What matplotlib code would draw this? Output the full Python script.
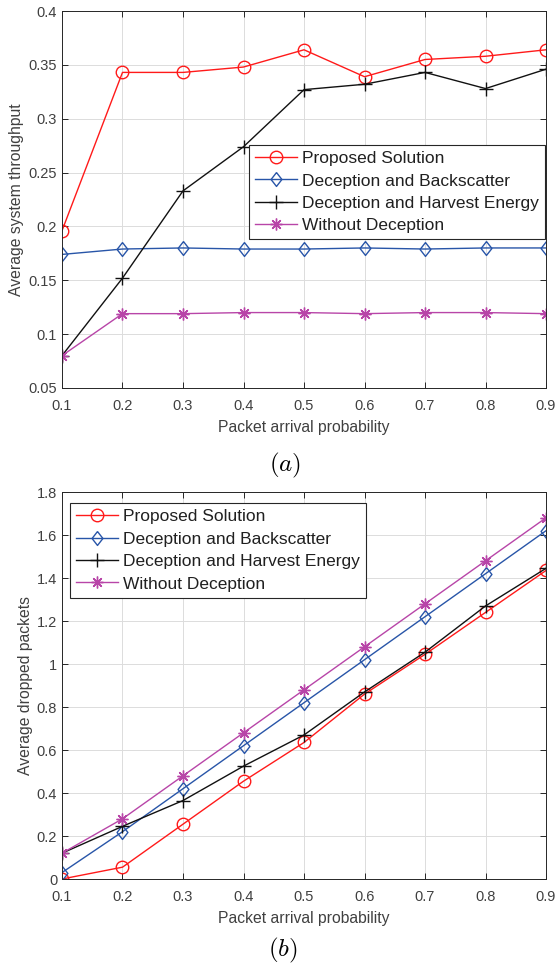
import matplotlib
matplotlib.use("Agg")
import matplotlib.pyplot as plt

plt.rcParams['font.family'] = ['Liberation Sans', 'DejaVu Sans']
plt.rcParams['mathtext.fontset'] = 'cm'

# data
p = [0.1, 0.2, 0.3, 0.4, 0.5, 0.6, 0.7, 0.8, 0.9]
labels = ["Proposed Solution", "Deception and Backscatter",
          "Deception and Harvest Energy", "Without Deception"]

thr_proposed = [0.196, 0.343, 0.343, 0.348, 0.364, 0.339, 0.355, 0.358, 0.364]
thr_backscatter = [0.174, 0.179, 0.180, 0.179, 0.179, 0.180, 0.179, 0.180, 0.180]
thr_harvest = [0.080, 0.152, 0.233, 0.274, 0.327, 0.332, 0.343, 0.328, 0.346]
thr_without = [0.080, 0.119, 0.119, 0.120, 0.120, 0.119, 0.120, 0.120, 0.119]

drop_proposed = [0.0, 0.055, 0.255, 0.455, 0.635, 0.86, 1.045, 1.24, 1.435]
drop_backscatter = [0.03, 0.22, 0.42, 0.62, 0.82, 1.02, 1.22, 1.42, 1.62]
drop_harvest = [0.12, 0.245, 0.365, 0.525, 0.67, 0.87, 1.055, 1.27, 1.445]
drop_without = [0.12, 0.28, 0.48, 0.68, 0.88, 1.08, 1.28, 1.48, 1.68]

# matlab-ish markers
diamond = [(0, 1), (0.78, 0), (0, -1), (-0.78, 0), (0, 1)]
colors = ['#ff1a1a', '#2855a8', '#111111', '#b845a8']
markers = ['o', diamond, '+', (8, 2, 0)]
msizes = [9, 10, 10, 8.5]

fig = plt.figure(figsize=(5.57, 9.67), dpi=100)
ax1 = fig.add_axes([0.1113, 0.5988, 0.8690, 0.3898])
ax2 = fig.add_axes([0.1113, 0.0910, 0.8690, 0.4002])

def style(ax):
    ax.grid(True, color='#dcdcdc', linewidth=0.7)
    ax.set_axisbelow(True)
    ax.tick_params(direction='in', top=True, right=True, labelsize=10.5,
                   colors='#262626', length=4, width=0.7, labelcolor='#404040')
    ax.tick_params(axis='x', pad=8)
    for s in ax.spines.values():
        s.set_color('#262626')
        s.set_linewidth(0.7)
    ax.set_xlim(0.1, 0.9)
    ax.set_xticks(p)
    ax.set_xticklabels([f"{v:g}" for v in p])
    ax.set_xlabel("Packet arrival probability", fontsize=11.3, color='#404040', labelpad=5)

def add_legend(ax, **kw):
    leg = ax.legend(fontsize=12.5, fancybox=False, edgecolor='#262626',
                    handlelength=2.4, handletextpad=0.3, borderpad=0.35,
                    labelspacing=0.42, borderaxespad=0, framealpha=1, **kw)
    leg.get_frame().set_linewidth(0.8)
    for t in leg.get_texts():
        t.set_color('#202020')
    return leg

series1 = [thr_proposed, thr_backscatter, thr_harvest, thr_without]
for y, c, m, ms, lab in zip(series1, colors, markers, msizes, labels):
    ax1.plot(p, y, color=c, marker=m, markersize=ms, markerfacecolor='none',
             markeredgewidth=1.0, linewidth=1.0, label=lab)
style(ax1)
ax1.set_ylim(0.05, 0.4)
ax1.set_yticks([0.05, 0.1, 0.15, 0.2, 0.25, 0.3, 0.35, 0.4])
ax1.set_yticklabels(["0.05", "0.1", "0.15", "0.2", "0.25", "0.3", "0.35", "0.4"])
ax1.set_ylabel("Average system throughput", fontsize=11.3, color='#404040', labelpad=3)
add_legend(ax1, loc='upper right', bbox_to_anchor=(0.998, 0.645))

series2 = [drop_proposed, drop_backscatter, drop_harvest, drop_without]
for y, c, m, ms, lab in zip(series2, colors, markers, msizes, labels):
    ax2.plot(p, y, color=c, marker=m, markersize=ms, markerfacecolor='none',
             markeredgewidth=1.0, linewidth=1.0, label=lab)
style(ax2)
ax2.set_ylim(0, 1.8)
ax2.set_yticks([0, 0.2, 0.4, 0.6, 0.8, 1.0, 1.2, 1.4, 1.6, 1.8])
ax2.set_yticklabels(["0", "0.2", "0.4", "0.6", "0.8", "1", "1.2", "1.4", "1.6", "1.8"])
ax2.set_ylabel("Average dropped packets", fontsize=11.3, color='#404040', labelpad=3)
add_legend(ax2, loc='upper left', bbox_to_anchor=(0.0165, 0.9716))

fig.text(285 / 557, 1 - 465 / 967, r"$(a)$", fontsize=18, ha='center', va='center')
fig.text(283 / 557, 1 - 950 / 967, r"$(b)$", fontsize=18, ha='center', va='center')

fig.savefig("out.png", dpi=100)
